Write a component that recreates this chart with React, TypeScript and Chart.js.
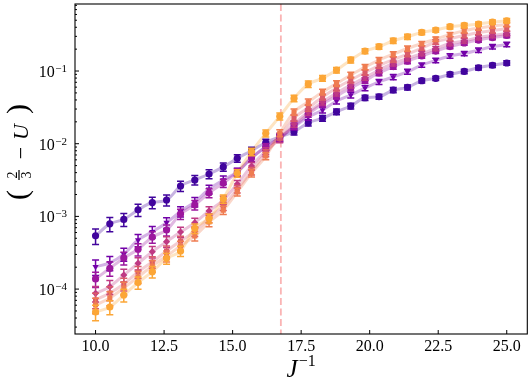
import React, { useEffect, useRef } from "react";
import { Chart, registerables } from "chart.js";

Chart.register(...registerables);

// x values: J^{-1}
const invJ = [10.0, 10.52, 11.03, 11.55, 12.07, 12.59, 13.1, 13.62, 14.14, 14.66, 15.17, 15.69, 16.21, 16.72, 17.24, 17.76, 18.28, 18.79, 19.31, 19.83, 20.34, 20.86, 21.38, 21.9, 22.41, 22.93, 23.45, 23.97, 24.48, 25.0];

// (2/3 - U) for each system size (smallest to largest)
const u0 = [5.4e-4, 7.9e-4, 9.1e-4, 1.23e-3, 1.55e-3, 1.68e-3, 2.62e-3, 3.17e-3, 3.83e-3, 4.8e-3, 6.3e-3, 8.0e-3, 1.04e-2, 1.24e-2, 1.46e-2, 1.94e-2, 2.24e-2, 2.75e-2, 3.3e-2, 4.29e-2, 4.43e-2, 5.48e-2, 5.97e-2, 7.37e-2, 7.94e-2, 9.0e-2, 9.9e-2, 0.111, 0.12, 0.129];
const u1 = [2.03e-4, 2.3e-4, 3.03e-4, 4.73e-4, 6.15e-4, 8.2e-4, 1.17e-3, 1.58e-3, 2.36e-3, 3.17e-3, 4.1e-3, 6.4e-3, 9.1e-3, 1.2e-2, 1.7e-2, 2.33e-2, 2.91e-2, 3.87e-2, 4.68e-2, 5.84e-2, 7.1e-2, 8.27e-2, 9.78e-2, 0.121, 0.14, 0.161, 0.174, 0.194, 0.216, 0.232];
const u2 = [1.38e-4, 1.93e-4, 2.68e-4, 3.53e-4, 5.21e-4, 6.5e-4, 1.08e-3, 1.44e-3, 2.1e-3, 2.88e-3, 4.08e-3, 6.36e-3, 9.01e-3, 1.2e-2, 1.75e-2, 2.56e-2, 3.52e-2, 4.53e-2, 5.84e-2, 7.4e-2, 9.39e-2, 0.115, 0.137, 0.161, 0.188, 0.217, 0.243, 0.267, 0.289, 0.308];
const u3 = [8.75e-5, 1.08e-4, 1.56e-4, 2.26e-4, 3.27e-4, 4.49e-4, 6.1e-4, 8.19e-4, 1.19e-3, 1.68e-3, 2.79e-3, 4.94e-3, 7.93e-3, 1.16e-2, 1.87e-2, 2.73e-2, 3.75e-2, 4.98e-2, 6.42e-2, 8.14e-2, 0.103, 0.127, 0.149, 0.174, 0.204, 0.239, 0.259, 0.289, 0.308, 0.328];
const u4 = [7.08e-5, 8.84e-5, 1.175e-4, 1.72e-4, 2.36e-4, 3.34e-4, 4.59e-4, 6.2e-4, 9.51e-4, 1.39e-3, 2.38e-3, 4.21e-3, 7.45e-3, 1.26e-2, 2.26e-2, 3.1e-2, 4.39e-2, 5.84e-2, 7.52e-2, 9.54e-2, 0.119, 0.144, 0.171, 0.207, 0.251, 0.28, 0.308, 0.339, 0.36, 0.382];
const u5 = [6.04e-5, 7.55e-5, 1.035e-4, 1.47e-4, 2.08e-4, 2.85e-4, 3.92e-4, 5.38e-4, 8.38e-4, 1.22e-3, 2.17e-3, 3.95e-3, 6.77e-3, 1.4e-2, 2.73e-2, 3.75e-2, 5.14e-2, 6.73e-2, 8.81e-2, 0.1135, 0.1417, 0.171, 0.204, 0.239, 0.275, 0.318, 0.36, 0.39, 0.416, 0.436];
const u6 = [4.84e-5, 5.67e-5, 8.29e-5, 1.23e-4, 1.735e-4, 2.65e-4, 3.34e-4, 6.86e-4, 9.42e-4, 1.75e-3, 3.92e-3, 7.76e-3, 1.39e-2, 2.38e-2, 4.21e-2, 6.62e-2, 7.94e-2, 0.103, 0.142, 0.188, 0.216, 0.261, 0.296, 0.34, 0.366, 0.407, 0.425, 0.443, 0.472, 0.492];

// relative statistical error per J^{-1} point
const relErr = [0.24, 0.22, 0.2, 0.19, 0.18, 0.17, 0.16, 0.15, 0.14, 0.13, 0.12, 0.12, 0.11, 0.11, 0.1, 0.1, 0.09, 0.09, 0.09, 0.08, 0.08, 0.08, 0.08, 0.07, 0.07, 0.07, 0.07, 0.07, 0.07, 0.07];

const seriesValues = [u0, u1, u2, u3, u4, u5, u6];
const seriesColors = ["#41049d", "#7201a8", "#9c179e", "#bf3984", "#da5b69", "#ef7c51", "#fca636"];
const markerStyles = ["circle", "triangle", "circle", "rectRot", "rect", "rect", "circle"];
const markerRotation = [0, 180, 0, 0, 0, 0, 0];

const xTicks = [10, 12.5, 15, 17.5, 20, 22.5, 25];
const yDecades = [-4, -3, -2, -1];
const criticalInvJ = 16.76;
const xRange = [9.25, 25.75];
const yRange = [2.41e-5, 0.836];

const SERIF = '"Liberation Serif", "DejaVu Serif", serif';

function withAlpha(hex: string, a: number) {
  const r = parseInt(hex.slice(1, 3), 16);
  const g = parseInt(hex.slice(3, 5), 16);
  const b = parseInt(hex.slice(5, 7), 16);
  return `rgba(${r},${g},${b},${a})`;
}

const errorBarPlugin = {
  id: "errorBars",
  beforeDatasetDraw(chart: any, args: any) {
    const ds = chart.data.datasets[args.index];
    if (!ds.errs) return;
    const ctx = chart.ctx;
    const ys = chart.scales.y;
    ctx.save();
    ctx.strokeStyle = ds.borderColor;
    ctx.lineWidth = 1.5;
    args.meta.data.forEach((el: any, i: number) => {
      const v = ds.data[i].y;
      const e = ds.errs[i];
      const yTop = ys.getPixelForValue(v + e);
      const yBot = ys.getPixelForValue(Math.max(v - e, 1e-12));
      const x = el.x;
      ctx.beginPath();
      ctx.moveTo(x, yTop);
      ctx.lineTo(x, yBot);
      ctx.moveTo(x - 3.5, yTop);
      ctx.lineTo(x + 3.5, yTop);
      ctx.moveTo(x - 3.5, yBot);
      ctx.lineTo(x + 3.5, yBot);
      ctx.stroke();
    });
    ctx.restore();
  },
};

const criticalLinePlugin = {
  id: "criticalLine",
  beforeDatasetsDraw(chart: any) {
    const { ctx, chartArea } = chart;
    const x = chart.scales.x.getPixelForValue(criticalInvJ);
    ctx.save();
    ctx.strokeStyle = "rgba(245,105,105,0.5)";
    ctx.lineWidth = 1.8;
    ctx.setLineDash([7, 3.5]);
    ctx.beginPath();
    ctx.moveTo(x, chartArea.top);
    ctx.lineTo(x, chartArea.bottom);
    ctx.stroke();
    ctx.restore();
  },
};

const axesPlugin = {
  id: "mplAxes",
  afterDraw(chart: any) {
    const { ctx, chartArea } = chart;
    const xs = chart.scales.x;
    const ys = chart.scales.y;
    const { left, right, top, bottom } = chartArea;
    ctx.save();
    // frame
    ctx.strokeStyle = "#000";
    ctx.lineWidth = 1.1;
    ctx.strokeRect(left, top, right - left, bottom - top);

    // x ticks and labels
    ctx.lineWidth = 1;
    ctx.fillStyle = "#000";
    ctx.font = `16px ${SERIF}`;
    ctx.textAlign = "center";
    ctx.textBaseline = "alphabetic";
    xTicks.forEach((t) => {
      const x = xs.getPixelForValue(t);
      ctx.beginPath();
      ctx.moveTo(x, bottom);
      ctx.lineTo(x, bottom - 4);
      ctx.stroke();
      ctx.fillText(t.toFixed(1), x, bottom + 17);
    });

    // y minor ticks
    for (let k = -6; k <= 0; k++) {
      for (let m = 2; m <= 9; m++) {
        const v = m * Math.pow(10, k);
        if (v < yRange[0] || v > yRange[1]) continue;
        const y = ys.getPixelForValue(v);
        ctx.beginPath();
        ctx.moveTo(left, y);
        ctx.lineTo(left + 2, y);
        ctx.stroke();
      }
    }
    // y major ticks and labels
    yDecades.forEach((d) => {
      const y = ys.getPixelForValue(Math.pow(10, d));
      ctx.beginPath();
      ctx.moveTo(left, y);
      ctx.lineTo(left + 4, y);
      ctx.stroke();
      const sup = "\u2212" + String(-d);
      ctx.font = `11px ${SERIF}`;
      const supW = ctx.measureText(sup).width;
      const rightEdge = left - 8;
      ctx.textAlign = "left";
      ctx.fillText(sup, rightEdge - supW, y + 1);
      ctx.font = `16px ${SERIF}`;
      ctx.textAlign = "right";
      ctx.fillText("10", rightEdge - supW - 0.5, y + 6);
    });

    // x axis label: J^{-1}
    ctx.textAlign = "left";
    ctx.font = `italic 25px ${SERIF}`;
    const jW = ctx.measureText("J").width;
    ctx.font = `16px ${SERIF}`;
    const sW = ctx.measureText("\u22121").width;
    const cx = (left + right) / 2;
    const startX = cx - (jW + 1 + sW) / 2;
    ctx.font = `italic 25px ${SERIF}`;
    ctx.fillText("J", startX, 377);
    ctx.font = `16px ${SERIF}`;
    ctx.fillText("\u22121", startX + jW + 1, 366);

    // y axis label: (2/3 - U)
    ctx.translate(19, (top + bottom) / 2 - 19);
    ctx.rotate(-Math.PI / 2);
    ctx.textAlign = "center";
    ctx.font = `30px ${SERIF}`;
    ctx.fillText("(", -45, 8);
    ctx.fillText(")", 41, 8);
    ctx.font = `14px ${SERIF}`;
    ctx.fillText("2", -25, -2);
    ctx.fillText("3", -25, 11.5);
    ctx.fillRect(-30, -0.6, 10, 1.2);
    ctx.font = `22px ${SERIF}`;
    ctx.fillText("\u2212", -3, 9);
    ctx.font = `italic 22px ${SERIF}`;
    ctx.fillText("U", 18, 9);
    ctx.restore();
  },
};

export default function App() {
  const canvasRef = useRef<HTMLCanvasElement | null>(null);

  useEffect(() => {
    const canvas = canvasRef.current;
    if (!canvas) return;
    const datasets: any[] = [];
    seriesValues.forEach((vals, k) => {
      const pts = invJ.map((x, i) => ({ x, y: vals[i] }));
      datasets.push({
        type: "line",
        label: `fit ${k}`,
        data: pts,
        borderColor: withAlpha(seriesColors[k], 0.3),
        backgroundColor: withAlpha(seriesColors[k], 0.3),
        borderWidth: 3,
        pointRadius: 0,
        fill: false,
        cubicInterpolationMode: "monotone",
        order: 200 - k,
      });
      datasets.push({
        type: "scatter",
        label: `L${k}`,
        data: pts,
        backgroundColor: seriesColors[k],
        borderColor: seriesColors[k],
        borderWidth: 0,
        pointRadius: 3.6,
        pointStyle: markerStyles[k],
        rotation: markerRotation[k],
        errs: vals.map((v, i) => v * relErr[i]),
        order: 100 - k,
      });
    });

    const chart = new Chart(canvas, {
      type: "scatter",
      data: { datasets },
      options: {
        animation: false,
        responsive: false,
        devicePixelRatio: 1,
        layout: { padding: { left: 75, top: 4, right: 4.7, bottom: 51 } },
        plugins: {
          legend: { display: false },
          tooltip: { enabled: false },
        },
        scales: {
          x: { type: "linear", min: xRange[0], max: xRange[1], display: false },
          y: { type: "logarithmic", min: yRange[0], max: yRange[1], display: false },
        },
      } as any,
      plugins: [criticalLinePlugin, errorBarPlugin, axesPlugin],
    } as any);

    return () => chart.destroy();
  }, []);

  return (
    <div style={{ position: "absolute", left: 0, top: 0, width: 532, height: 385, background: "#fff" }}>
      <canvas ref={canvasRef} width={532} height={385} style={{ display: "block" }} />
    </div>
  );
}
